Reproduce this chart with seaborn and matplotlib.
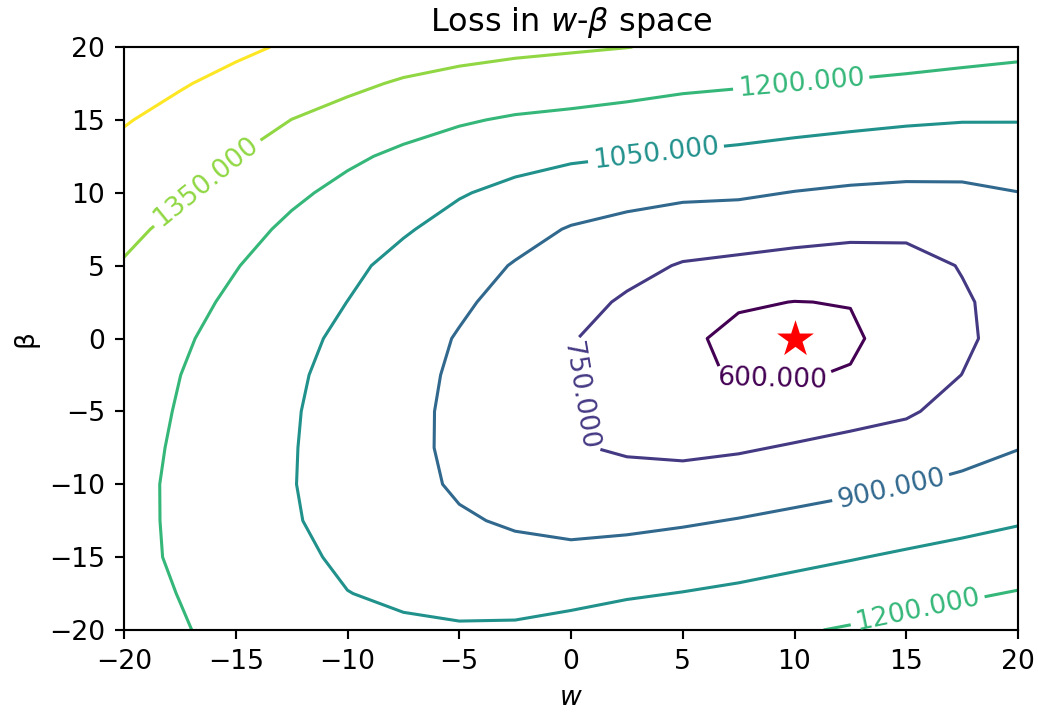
import numpy as np
import matplotlib

matplotlib.use("agg")
import matplotlib.pyplot as plt
import seaborn as sns

# grid of the loss surface
w_values = [-20, -17.5, -15, -12.5, -10, -7.5, -5, -2.5, 0,
            2.5, 5, 7.5, 10, 12.5, 15, 17.5, 20]
beta_values = [-20, -17.5, -15, -12.5, -10, -7.5, -5, -2.5, 0,
               2.5, 5, 7.5, 10, 12.5, 15, 17.5, 20]

# one row of loss values per beta value (w from -20 to 20)
loss_b_m20 = [1258, 1210, 1163, 1115, 1078, 1067, 1062, 1068, 1094, 1122, 1139, 1159, 1187, 1212, 1241, 1268, 1295]
loss_b_m17_5 = [1243, 1197, 1148, 1100, 1052, 1032, 1013, 1002, 1012, 1036, 1054, 1075, 1101, 1127, 1155, 1182, 1208]
loss_b_m15 = [1238, 1183, 1129, 1075, 1030, 997, 964, 937, 930, 949, 969, 990, 1016, 1042, 1069, 1095, 1122]
loss_b_m12_5 = [1238, 1179, 1119, 1060, 1010, 962, 914, 885, 867, 869, 885, 906, 930, 955, 982, 1009, 1038]
loss_b_m10 = [1239, 1178, 1117, 1055, 998, 940, 883, 851, 815, 796, 800, 821, 846, 870, 896, 923, 965]
loss_b_m7_5 = [1247, 1183, 1120, 1057, 995, 933, 873, 817, 761, 735, 722, 736, 762, 787, 815, 860, 896]
loss_b_m5 = [1257, 1191, 1126, 1061, 997, 934, 873, 815, 757, 718, 677, 663, 677, 706, 733, 800, 860]
loss_b_m2_5 = [1267, 1201, 1136, 1070, 1006, 942, 879, 818, 757, 695, 625, 590, 592, 608, 692, 751, 823]
loss_b_0 = [1283, 1218, 1152, 1087, 1022, 957, 891, 825, 758, 693, 628, 564, 525, 581, 655, 728, 803]
loss_b_2_5 = [1304, 1241, 1177, 1114, 1049, 985, 920, 857, 795, 733, 685, 615, 598, 604, 680, 733, 808]
loss_b_5 = [1340, 1268, 1205, 1142, 1079, 1011, 953, 892, 841, 790, 740, 720, 701, 692, 694, 758, 835]
loss_b_7_5 = [1383, 1313, 1242, 1177, 1120, 1063, 1003, 946, 891, 859, 830, 820, 801, 783, 784, 825, 867]
loss_b_10 = [1430, 1367, 1295, 1222, 1168, 1116, 1060, 1016, 976, 945, 925, 919, 896, 879, 870, 873, 898]
loss_b_12_5 = [1467, 1413, 1351, 1288, 1221, 1176, 1138, 1095, 1069, 1052, 1034, 1019, 998, 981, 968, 964, 976]
loss_b_15 = [1508, 1462, 1409, 1349, 1300, 1249, 1213, 1186, 1170, 1150, 1131, 1116, 1100, 1083, 1067, 1056, 1055]
loss_b_17_5 = [1554, 1510, 1466, 1414, 1379, 1335, 1305, 1283, 1268, 1251, 1227, 1214, 1201, 1188, 1173, 1157, 1146]
loss_b_20 = [1599, 1558, 1524, 1485, 1460, 1428, 1400, 1380, 1366, 1352, 1332, 1315, 1301, 1288, 1274, 1256, 1237]

contour_levels = [600, 750, 900, 1050, 1200, 1350, 1500]

# minimum of the loss
best_w = [10]
best_beta = [0]

# style
sns.set_style("ticks", {"axes.edgecolor": "black", "text.color": "black",
                        "xtick.color": "black", "ytick.color": "black",
                        "axes.labelcolor": "black"})
plt.rcParams["font.family"] = ["DejaVu Sans"]
plt.rcParams["font.size"] = 10

fig = plt.figure(figsize=(1038 / 192, 713 / 192), dpi=192)
ax = fig.add_axes([124 / 1038, 83 / 713, 894 / 1038, 583 / 713])

loss = np.vstack([loss_b_m20, loss_b_m17_5, loss_b_m15, loss_b_m12_5,
                  loss_b_m10, loss_b_m7_5, loss_b_m5, loss_b_m2_5, loss_b_0,
                  loss_b_2_5, loss_b_5, loss_b_7_5, loss_b_10, loss_b_12_5,
                  loss_b_15, loss_b_17_5, loss_b_20])

cs = ax.contour(w_values, beta_values, loss, levels=contour_levels,
                cmap="viridis", linewidths=1.15)

# label spots
label_spots = [(-16.4, 10.9), (10.3, 17.5), (3.8, 12.7), (14.3, -10.2),
               (0.2, -4.0), (9.0, -2.8), (15.5, -18.6)]
ax.clabel(cs, fmt="%1.3f", fontsize=10, manual=label_spots)

sns.scatterplot(x=best_w, y=best_beta, marker="*", s=210, color="red",
                edgecolor="red", linewidth=0, legend=False, ax=ax, zorder=3)

ax.set_xlim(-20, 20)
ax.set_ylim(-20, 20)
ax.set_title(r"Loss in $w$-$\beta$ space", fontsize=12)
ax.set_xlabel(r"$w$")
ax.set_ylabel("β")

fig.savefig("out.png", dpi=192)
